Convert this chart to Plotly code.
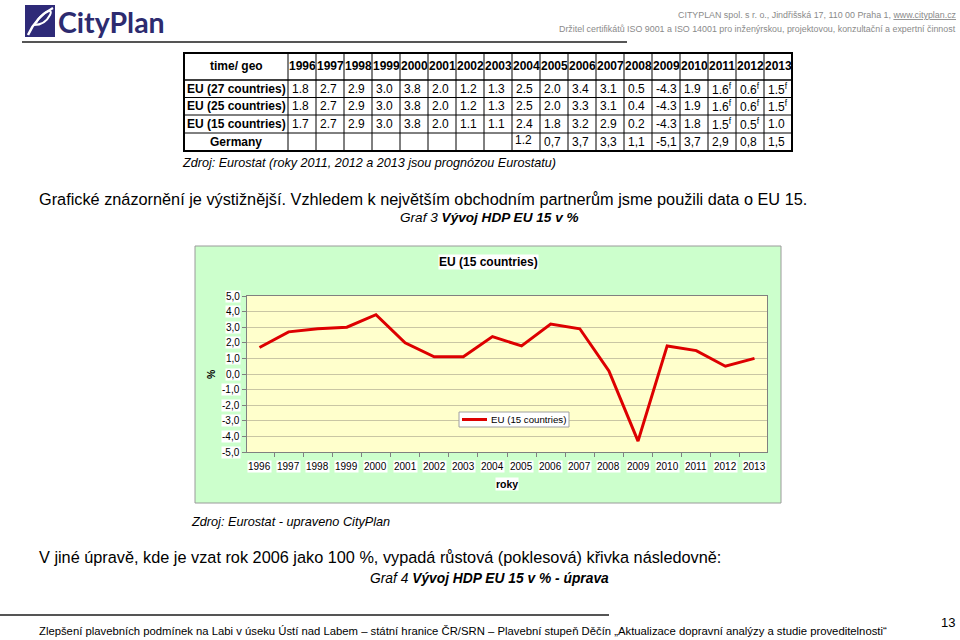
import plotly.graph_objects as go

# ---------------- data ----------------
years = list(range(1996, 2014))
eu27 = [1.8, 2.7, 2.9, 3.0, 3.8, 2.0, 1.2, 1.3, 2.5, 2.0, 3.4, 3.1, 0.5, -4.3, 1.9, 1.6, 0.6, 1.5]
eu25 = [1.8, 2.7, 2.9, 3.0, 3.8, 2.0, 1.2, 1.3, 2.5, 2.0, 3.3, 3.1, 0.4, -4.3, 1.9, 1.6, 0.6, 1.5]
eu15 = [1.7, 2.7, 2.9, 3.0, 3.8, 2.0, 1.1, 1.1, 2.4, 1.8, 3.2, 2.9, 0.2, -4.3, 1.8, 1.5, 0.5, 1.0]
germany = [None] * 8 + [1.2, 0.7, 3.7, 3.3, 1.1, -5.1, 3.7, 2.9, 0.8, 1.5]
forecast27 = [2011, 2012, 2013]
forecast25 = [2011, 2012, 2013]
forecast15 = [2011, 2012]
row_names = ["EU (27 countries)", "EU (25 countries)", "EU (15 countries)", "Germany"]
y_ticks = [5, 4, 3, 2, 1, 0, -1, -2, -3, -4, -5]
series_name = "EU (15 countries)"

FONT = "Liberation Sans, Arial, sans-serif"
W, H = 960, 640


def px(x):
    return x / W


def py(y):
    return 1 - y / H


def P(x, y):
    return f"{px(x):.5f},{py(y):.5f}"


annotations = []
shapes = []


def text(x, y, t, size, xanchor="left", yanchor="middle", color="black", family=FONT, **kw):
    annotations.append(dict(x=px(x), y=py(y), xref="paper", yref="paper", text=t,
                            showarrow=False, xanchor=xanchor, yanchor=yanchor,
                            font=dict(size=size, color=color, family=family), **kw))


def line(x0, y0, x1, y1, color="black", width=1):
    shapes.append(dict(type="line", xref="paper", yref="paper", x0=px(x0), y0=py(y0),
                       x1=px(x1), y1=py(y1), line=dict(color=color, width=width)))


def rect(x0, y0, x1, y1, fill=None, color="black", width=1, layer="above"):
    d = dict(type="rect", xref="paper", yref="paper", x0=px(x0), y0=py(y0), x1=px(x1),
             y1=py(y1), line=dict(color=color, width=width), layer=layer)
    if fill:
        d["fillcolor"] = fill
    shapes.append(d)


# ---------------- header ----------------
rect(25, 5, 55, 37, fill="#2e2a78", color="#2e2a78", width=0)
shapes.append(dict(type="path", xref="paper", yref="paper",
                   path=f"M {P(28,35)} C {P(33,24)} {P(41,14)} {P(53,8)}",
                   line=dict(color="white", width=2.5)))
shapes.append(dict(type="path", xref="paper", yref="paper",
                   path=f"M {P(36,23)} C {P(42,12)} {P(54,7)} {P(50,15)} C {P(47,21)} {P(41,25)} {P(34,25)}",
                   line=dict(color="white", width=2)))
text(56, 22, "<b>CityPlan</b>", 28.5, color="#2d2b6f", family="Lato, Liberation Sans, sans-serif")
text(958, 15, "CITYPLAN spol. s r. o., Jindřišská 17, 110 00 Praha 1, "
     "<span style='text-decoration:underline'>www.cityplan.cz</span>", 8.9,
     xanchor="right", color="#8a8a8a")
text(958, 29, "Držitel certifikátů ISO 9001 a ISO 14001 pro inženýrskou, projektovou, "
     "konzultační a expertní činnost", 8.9, xanchor="right", color="#8a8a8a")
line(22, 42, 627, 42, color="#555555", width=2)

# ---------------- table ----------------
t_left, t_c0, col_w = 184, 288, 28
row_y = [53, 80, 97.5, 115, 133, 151]
t_right = t_c0 + col_w * len(years)
for i in range(1, len(row_y) - 1):
    line(t_left, row_y[i], t_right, row_y[i], width=1.5 if i == 1 else 1)
for i in range(len(years)):
    xx = t_c0 + col_w * i
    line(xx, row_y[0], xx, row_y[-1], width=1)
rect(t_left, row_y[0], t_right, row_y[-1], color="black", width=2)

text((t_left + t_c0) / 2, (row_y[0] + row_y[1]) / 2, "<b>time/ geo</b>", 12, xanchor="center")
for i, yr in enumerate(years):
    text(t_c0 + col_w * i + col_w / 2, (row_y[0] + row_y[1]) / 2, f"<b>{yr}</b>", 12,
         xanchor="center")


def fmt(v, yr, fc, sep="."):
    s = f"{v:.1f}".replace(".", sep)
    if yr in fc:
        s += "<sup>f</sup>"
    return s


rows = [(eu27, forecast27), (eu25, forecast25), (eu15, forecast15)]
for r, (vals, fc) in enumerate(rows):
    yc = (row_y[r + 1] + row_y[r + 2]) / 2
    text((t_left + t_c0) / 2, yc, f"<b>{row_names[r]}</b>", 12, xanchor="center")
    for i, (yr, v) in enumerate(zip(years, vals)):
        text(t_c0 + col_w * i + 2, yc, fmt(v, yr, fc), 12)
yc = (row_y[4] + row_y[5]) / 2
text((t_left + t_c0) / 2, yc, f"<b>{row_names[3]}</b>", 12, xanchor="center")
first = True
for i, (yr, v) in enumerate(zip(years, germany)):
    if v is None:
        continue
    if first:
        text(t_c0 + col_w * (i + 1) - 6, yc - 2, fmt(v, yr, []), 12, xanchor="right")
        first = False
    else:
        text(t_c0 + col_w * i + 2, yc, fmt(v, yr, [], ","), 12)

# ---------------- body texts ----------------
text(180, 163, "<i>Zdroj: Eurostat (roky 2011, 2012 a 2013 jsou prognózou Eurostatu)</i>", 12.6)
text(37, 199, "Grafické znázornění je výstižnější. Vzhledem k největším obchodním partnerům "
     "jsme použili data o EU 15.", 16.3)
text(489, 218, "<i>Graf 3 <b>Vývoj HDP EU 15 v %</b></i>", 13.6, xanchor="center")
text(189, 522, "<i>Zdroj: Eurostat - upraveno CityPlan</i>", 12.7)
text(37, 557, "V jiné úpravě, kde je vzat rok 2006 jako 100 %, vypadá růstová (poklesová) "
     "křivka následovně:", 16.3)
text(368, 578, "<i>Graf 4 <b>Vývoj HDP EU 15 v % - úprava</b></i>", 13.8)
line(0, 615, 609, 615, color="#555555", width=2)
text(37, 631, "Zlepšení plavebních podmínek na Labi v úseku Ústí nad Labem – státní hranice "
     "ČR/SRN – Plavební stupeň Děčín „Aktualizace dopravní analýzy a studie proveditelnosti“", 11.3)
text(957, 622, "13", 13, xanchor="right")

# ---------------- chart ----------------
plot_l, plot_r, plot_t, plot_b = 247, 767, 296, 452
rect(195, 246, 781, 503, fill="#ccffcc", color="#9a9a9a", width=1, layer="below")
rect(plot_l, plot_t, plot_r, plot_b, fill="#ffffcc", color="#ffffcc", width=0, layer="below")

text(488, 262, "<b>EU (15 countries)</b>", 12, xanchor="center", bgcolor="white", borderpad=0)
text(211, 374, "<b>%</b>", 10.5, xanchor="center", textangle=-90)
text(507, 484, "<b>roky</b>", 10.5, xanchor="center", bgcolor="white", borderpad=0)

# legend box (drawn like the original chart's legend)
rect(459, 412, 569, 427, fill="white", color="#a0a0a0", width=1)
line(462, 419.5, 487, 419.5, color="#dd0000", width=3)
text(489, 419.5, series_name, 9.7)

cats = [str(y) for y in years]
for i, c in enumerate(cats):
    annotations.append(dict(x=i, y=py(466), xref="x", yref="paper", text=c, showarrow=False,
                            xanchor="center", yanchor="middle", bgcolor="white", borderpad=0,
                            font=dict(size=10, family=FONT, color="black")))
for v in y_ticks:
    annotations.append(dict(x=px(241), y=v, xref="paper", yref="y",
                            text=f"{v:.1f}".replace(".", ","), showarrow=False,
                            xanchor="right", yanchor="middle", bgcolor="white", borderpad=0,
                            font=dict(size=10, family=FONT, color="black")))

fig = go.Figure()
fig.add_trace(go.Scatter(x=cats, y=eu15, mode="lines", name=series_name,
                         line=dict(color="#dd0000", width=3), hoverinfo="x+y"))

fig.update_layout(
    width=W, height=H, autosize=False,
    margin=dict(l=0, r=0, t=0, b=0),
    paper_bgcolor="white", plot_bgcolor="rgba(0,0,0,0)",
    font=dict(family=FONT, size=10, color="black"),
    xaxis=dict(type="category", domain=[px(plot_l), px(plot_r)], showticklabels=False,
               ticks="outside", tickson="boundaries", ticklen=4, tickcolor="#808080",
               showline=True, linecolor="#808080", linewidth=1, mirror=True,
               showgrid=False, zeroline=False, fixedrange=True),
    yaxis=dict(domain=[py(plot_b), py(plot_t)], range=[-5, 5], dtick=1, tick0=0,
               showticklabels=False, ticks="outside", ticklen=4, tickcolor="#808080",
               showline=True, linecolor="#808080", linewidth=1, mirror=True,
               showgrid=True, gridcolor="#c9c6a4", gridwidth=1, zeroline=False,
               fixedrange=True),
    showlegend=False,
    annotations=annotations,
    shapes=shapes,
)

fig.write_html("out.html")
